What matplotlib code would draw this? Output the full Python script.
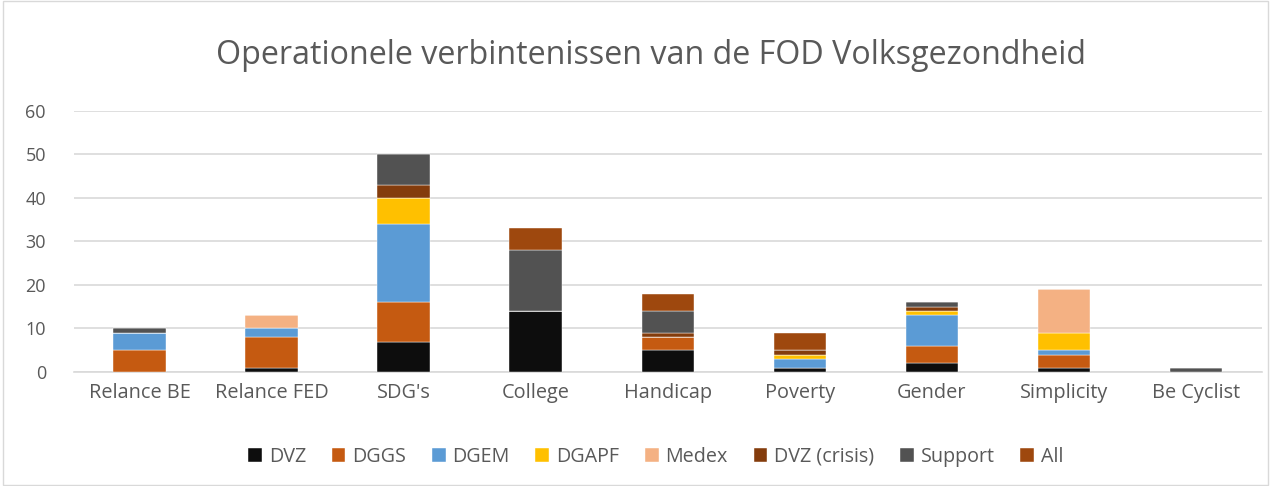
import numpy as np
import matplotlib
matplotlib.use("Agg")
import matplotlib.pyplot as plt
from matplotlib.patches import Rectangle

# Données
categories = ["Relance BE", "Relance FED", "SDG's", "College", "Handicap",
              "Poverty", "Gender", "Simplicity", "Be Cyclist"]
series_names = ["DVZ", "DGGS", "DGEM", "DGAPF", "Medex", "DVZ (crisis)", "Support", "All"]
dvz = [0, 1, 7, 14, 5, 1, 2, 1, 0]
dggs = [5, 7, 9, 0, 3, 0, 4, 3, 0]
dgem = [4, 2, 18, 0, 0, 2, 7, 1, 0]
dgapf = [0, 0, 6, 0, 0, 1, 1, 4, 0]
medex = [0, 3, 0, 0, 0, 0, 0, 10, 0]
dvz_crisis = [0, 0, 3, 0, 1, 1, 1, 0, 0]
support = [1, 0, 7, 14, 5, 0, 1, 0, 1]
all_ = [0, 0, 0, 5, 4, 4, 0, 0, 0]
colors = ["#0d0d0d", "#c55a11", "#5b9bd5", "#ffc000", "#f4b183",
          "#843c0c", "#525252", "#9e480e"]

series = [dvz, dggs, dgem, dgapf, medex, dvz_crisis, support, all_]
text_color = "#595959"
plt.rcParams["font.family"] = ["Open Sans", "DejaVu Sans"]

fig = plt.figure(figsize=(12.71, 4.86), dpi=100)
ax = fig.add_axes([0.058, 0.2346, 0.935, 0.537])

x = np.arange(len(categories))
bottom = np.zeros(len(categories))
for name, vals, c in zip(series_names, series, colors):
    vals = np.array(vals, dtype=float)
    ax.bar(x, vals, width=0.4, bottom=bottom, color=c, label=name,
           edgecolor="white", linewidth=0.3, zorder=3)
    bottom += vals

ax.set_xlim(-0.5, len(categories) - 0.5)
ax.set_ylim(0, 60)
ax.set_yticks(range(0, 61, 10))
ax.set_xticks(x)
ax.set_xticklabels(categories)
ax.tick_params(axis="y", length=0, labelsize=13, labelcolor=text_color, pad=20)
ax.tick_params(axis="x", length=0, labelsize=14.3, labelcolor=text_color, pad=8)
ax.grid(axis="y", color="#d9d9d9", linewidth=1.2, zorder=0)
for s in ["top", "right", "left"]:
    ax.spines[s].set_visible(False)
ax.spines["bottom"].set_color("#d9d9d9")
ax.spines["bottom"].set_linewidth(1.2)

fig.text(0.512, 0.885, "Operationele verbintenissen van de FOD Volksgezondheid",
         ha="center", va="center", fontsize=23.2, color=text_color)

fig.legend(loc="center", bbox_to_anchor=(0.516, 0.06), ncol=8, frameon=False,
           fontsize=14.2, labelcolor=text_color, handlelength=0.7, handleheight=0.7,
           handletextpad=0.35, columnspacing=1.3)

fig.patches.append(Rectangle((0.002, 0.002), 0.996, 0.996, transform=fig.transFigure,
                             fill=False, edgecolor="#d9d9d9", linewidth=1))

fig.savefig("out.png", dpi=100)
